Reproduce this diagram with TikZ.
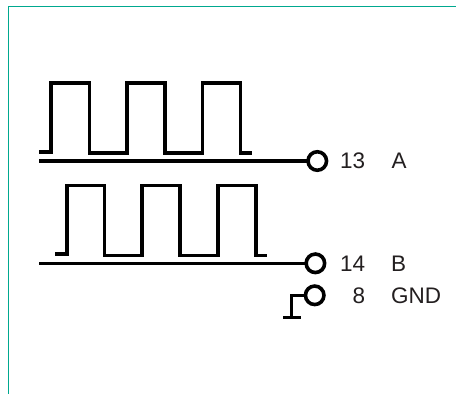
\documentclass[tikz,border=0pt]{standalone}
\usepackage{fontspec}
\setmainfont{Liberation Sans}
\definecolor{frame}{HTML}{00A88F}
\definecolor{labeltext}{HTML}{231F20}
\tikzset{
  wire/.style={line width=3.5pt,black,miter limit=10},
  thin wire/.style={line width=2.7pt,black},
  pin/.style={circle,draw=black,line width=3.6pt,fill=white,minimum size=18.5pt,inner sep=0pt,outer sep=0pt},
  lbl/.style={font=\fontsize{22.5}{24}\selectfont,text=labeltext,inner sep=0pt,anchor=base},
  pinno/.style={lbl,anchor=base east},
  sig/.style={lbl,anchor=base west}
}
\begin{document}
\begin{tikzpicture}[x=1pt,y=-1pt]
\useasboundingbox (0,0) rectangle (456,394);
\draw[frame,line width=1.5pt] (8.5,394) -- (8.5,6.5) -- (456,6.5);
% pins
\node[pin] (pa) at (317.3,161) {};
\node[pin] (pb) at (315.4,263.3) {};
\node[pin] (pg) at (314.7,295.3) {};
% baselines
\coordinate (astart) at (39,161);
\coordinate (bstart) at (39,263.3);
\draw[wire] (astart) -- (pa);
\draw[wire] (bstart) -- (pb);
% waveforms
\draw[wire] (39.3,151.8) -- (51,151.8) -- (51,83) -- (89.3,83) -- (89.3,153) -- (127,153) -- (127,83) -- (165,83) -- (165,153) -- (202.5,153) -- (202.5,83) -- (240.5,83) -- (240.5,153) -- (251.7,153);
\draw[wire] (55,254) -- (66.8,254) -- (66.8,185.5) -- (104.5,185.5) -- (104.5,255.5) -- (142,255.5) -- (142,185.5) -- (180,185.5) -- (180,255.5) -- (218,255.5) -- (218,185.5) -- (255.8,185.5) -- (255.8,255.5) -- (267,255.5);
% ground
\coordinate (gcorner) at (291.7,295.3);
\coordinate (gfoot) at (291.7,317.5);
\coordinate (gl) at (283.3,317.5);
\coordinate (gr) at (300.7,317.5);
\draw[thin wire] (pg) -- (gcorner) -- (gfoot);
\draw[thin wire] (gl) -- (gr);
% labels
\node[pinno] (n13) at (365.3,168) {13};
\node[sig] (la) at (391.5,168) {A};
\node[pinno] (n14) at (365.3,271) {14};
\node[sig] (lb) at (391,271) {B};
\node[pinno] (n8) at (365.3,303) {8};
\node[sig] (lg) at (391,303) {GND};
\end{tikzpicture}
\end{document}
